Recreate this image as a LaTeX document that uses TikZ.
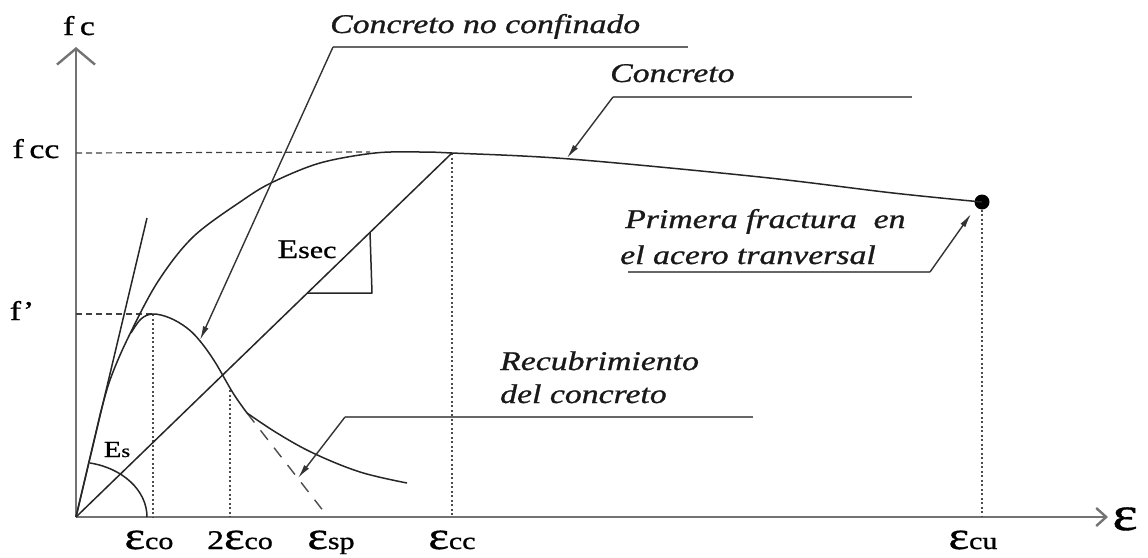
\documentclass[tikz,border=0pt]{standalone}
\usepackage{fontspec}
\setmainfont{Liberation Serif}
\usepackage{graphicx}
\usetikzlibrary{arrows.meta}
\newcommand{\wx}[1]{\scalebox{1.25}[1]{\addfontfeature{FakeBold=0.8}#1}}
\newcommand{\bigsz}{\fontsize{39}{40}\selectfont}
\newcommand{\subsz}{\fontsize{24}{26}\selectfont}
\newcommand{\midsz}{\fontsize{27}{30}\selectfont}
\begin{document}
\begin{tikzpicture}[x=1pt,y=-1pt,
  curve/.style={line width=1.5pt, draw=black!85, line join=round},
  axis/.style={line width=2.4pt, draw=black!55},
  leader/.style={line width=1.8pt, draw=black!60},
  lead/.style={line width=1.4pt, draw=black!80},
  dashln/.style={line width=1.2pt, draw=black!75, dash pattern=on 6pt off 4pt},
  longdash/.style={line width=1.4pt, draw=black!70, dash pattern=on 12pt off 10pt},
  dotln/.style={line width=1.4pt, draw=black!70, dash pattern=on 2pt off 2.5pt},
  tip/.style={-{Latex[length=14pt,width=6pt]}},
  lbl/.style={font=\midsz\itshape, inner sep=0pt, anchor=base west, text=black!90},
  sym/.style={inner sep=0pt, anchor=base, text=black}]
\useasboundingbox[fill=white] (0,0) rectangle (1148,557);

% key points
\coordinate (O) at (76,517);
\coordinate (ytop) at (76,47);
\coordinate (xend) at (1108,517);
\coordinate (pcc) at (452,153);
\coordinate (pco) at (153,314);
\coordinate (p2co) at (230,390);
\coordinate (kink) at (247,413);
\coordinate (psp) at (328,517);
\coordinate (tan) at (147,218);
\node[circle, fill=black, inner sep=0pt, minimum size=15pt] (frac) at (982,202) {};

% axes
\draw[axis, -{Straight Barb[length=16pt,width=38pt]}] (O) -- (ytop);
\draw[axis, -{Straight Barb[length=10pt,width=18pt]}] (O) -- (xend);

% reference lines
\draw[dashln] (O |- pcc) -- (370,152);
\draw[dashln] (O |- pco) -- (pco);
\draw[dotln] (pco) -- (pco |- O);
\draw[dotln] (p2co) -- (p2co |- O);
\draw[dotln] (pcc) -- (pcc |- O);
\draw[dotln] (frac) -- (frac |- O);
\draw[longdash] (kink) -- (psp);

% tangent and secant
\draw[curve] (O) -- (tan);
\draw[curve] (O) -- (pcc);
\draw[curve] (370,232) -- (372,293) -- (307,293);
\draw[curve] (90,463) .. controls (122,468) and (147,490) .. (147,517);

% confined concrete
\draw[curve] (O) -- (100,415) -- plot[smooth, tension=0.55] coordinates {(100,415) (110,380) (127,340) (157,283) (193,237) (243,200) (273,182) (320,163) (375,153) (420,152) (452,153) (570,159) (760,177) (893,193) (frac)};
% unconfined concrete
\draw[curve] plot[smooth, tension=0.6] coordinates {(131,333) (141,319) (153,314) (170,318) (187,328) (200,341) (215,362) (233,393) (kink)};
\draw[curve] plot[smooth, tension=0.6] coordinates {(kink) (277,433) (313,453) (360,472) (407,483)};

% labels
\node[sym] (fc) at (79,35) {\wx{\midsz f\,c}};
\node[sym] (fcc) at (36,158) {\wx{\midsz f\,cc}};
\node[sym] (fp) at (22,320) {\wx{\midsz f’}};
\node[sym] (esec) at (307,258) {\wx{\midsz E\subsz sec}};
\node[sym] (es) at (117,457) {\wx{\fontsize{23}{25}\selectfont E\fontsize{18}{20}\selectfont s}};
\node[sym] (eco) at (149,549) {\wx{\bigsz ε\subsz co}};
\node[sym] (e2co) at (240,549) {\wx{\midsz 2\bigsz ε\subsz co}};
\node[sym] (esp) at (331,549) {\wx{\bigsz ε\subsz sp}};
\node[sym] (ecc) at (452,549) {\wx{\bigsz ε\subsz cc}};
\node[sym] (ecu) at (973,549) {\wx{\bigsz ε\subsz cu}};
\node[sym] (eps) at (1125,530) {\wx{\fontsize{48}{50}\selectfont ε}};

\node[lbl] (t1) at (330,33) {\wx{Concreto no confinado}};
\node[lbl] (t2) at (610,82) {\wx{Concreto}};
\node[lbl] (t3) at (625,228) {\wx{Primera fractura~~en}};
\node[lbl] (t3b) at (620,264) {\wx{el acero tranversal}};
\node[lbl] (t4) at (500,370) {\wx{Recubrimiento}};
\node[lbl] (t4b) at (500,403) {\wx{del concreto}};

% leaders
\coordinate (u1a) at (688,47); \coordinate (u1b) at (333,47); \coordinate (a1) at (200,340);
\coordinate (u2a) at (912,97); \coordinate (u2b) at (613,97); \coordinate (a2) at (567,158);
\coordinate (u3a) at (628,272); \coordinate (u3b) at (930,272); \coordinate (a3) at (971,214);
\coordinate (u4a) at (753,417); \coordinate (u4b) at (345,417); \coordinate (a4) at (298,478);
\draw[leader] (u1a) -- (u1b);
\draw[lead, tip] (u1b) -- (a1);
\draw[leader] (u2a) -- (u2b);
\draw[lead, tip] (u2b) -- (a2);
\draw[leader] (u3a) -- (u3b);
\draw[lead, tip] (u3b) -- (a3);
\draw[leader] (u4a) -- (u4b);
\draw[lead, tip] (u4b) -- (a4);
\end{tikzpicture}
\end{document}
